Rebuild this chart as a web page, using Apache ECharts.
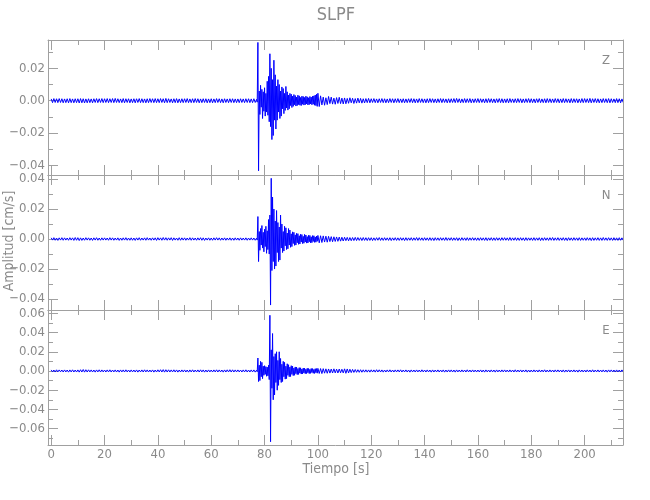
<!DOCTYPE html>
<html><head><meta charset="utf-8">
<script src="https://cdn.jsdelivr.net/npm/echarts@6/dist/echarts.min.js"></script>
<style>html,body{margin:0;padding:0;background:#fff}#c{width:650px;height:500px}</style>
</head><body><div id="c"></div>
<script>
const TITLE = 'SLPF';
const X_NAME = 'Tiempo [s]';
const Y_NAME = 'Amplitud [cm/s]';
const CHANNELS = ['Z', 'N', 'E'];
const AMP_UNIT = 1e-4;       // amplitudes below are in 1e-4 cm/s
// sampling of the three pieces of each trace: [start time (s), step (s)]
const PRE_GRID = [0, 0.5], EVT_GRID = [77, 0.25], POST_GRID = [100, 0.5];

// ---- Z ----
const zPre = [
11,-12,13,-11,12,-12,13,-11,12,-13,11,-12,12,-13,13,-12,11,-13,12,-12,
12,-14,13,-13,12,-14,11,-13,12,-12,11,-13,12,-11,13,-12,12,-11,13,-12,
12,-11,13,-12,12,-11,13,-12,14,-11,12,-12,11,-12,13,-13,12,-11,12,-13,
11,-12,12,-13,12,-11,13,-12,12,-12,11,-13,12,-12,13,-11,12,-12,13,-12,
12,-12,13,-11,12,-13,14,-12,12,-11,11,-13,12,-12,13,-13,11,-12,12,-12,
12,-11,13,-12,11,-12,12,-12,13,-11,12,-13,11,-12,12,-11,12,-13,11,-12,
12,-13,11,-12,13,-11,12,-12,11,-13,12,-11,11,-12,12,-11,12,-12,11,-12,
11,-12,12,-11,11,-12,12,-11,12,-12,11,-12,12,-11
];
const zEvt = [
8,-9,360,-433,60,-85,95,-40,70,-110,55,-65,80,-95,45,-70,120,-90,150,-130,
290,-160,200,-240,130,-215,250,-120,160,-175,90,-120,130,-70,100,-110,60,-95,85,-50,
75,-80,45,-60,88,-45,55,-58,35,-50,45,-30,40,-42,28,-35,38,-25,32,-33,
22,-30,34,-24,30,-28,20,-30,28,-22,26,-27,20,-25,28,-20,24,-26,18,-24,
26,-20,22,-25,28,-22,30,-28,35,-30,40,-35
];
const zPost = [
46,-36,30,-26,22,-28,18,-24,26,-18,22,-21,16,-22,19,-17,21,-18,16,-20,
17,-19,14,-16,18,-13,15,-17,13,-15,16,-13,14,-15,12,-14,13,-12,14,-13,
12,-11,13,-12,11,-13,12,-11,13,-12,12,-13,11,-12,13,-11,12,-13,12,-11,
13,-12,11,-12,12,-13,11,-12,12,-11,13,-12,12,-13,11,-12,13,-11,12,-12,
11,-13,12,-12,13,-11,12,-12,11,-13,12,-11,13,-12,12,-11,11,-13,12,-12,
12,-11,13,-12,14,-11,12,-13,11,-12,13,-12,12,-11,13,-13,11,-12,12,-11,
13,-12,12,-11,11,-13,12,-12,13,-11,12,-12,11,-13,12,-11,13,-12,12,-13,
11,-12,12,-13,13,-11,11,-12,12,-12,13,-11,12,-13,11,-12,12,-11,13,-12,
12,-12,11,-13,12,-11,13,-12,11,-12,12,-13,13,-11,12,-12,11,-12,13,-11,
12,-13,11,-12,13,-12,12,-11,11,-13,13,-12,12,-11,12,-13,11,-12,13,-12,
13,-11,12,-12,14,-13,12,-11,13,-12,12,-13,11,-12,13,-11,12,-12,13,-13,
12,-11,11,-12,13,-12,12,-13,11,-12
];

// ---- N ----
const nPre = [
8,-7,9,-8,7,-9,8,-7,9,-8,8,-7,7,-8,9,-7,8,-9,10,-8,
9,-10,8,-9,7,-8,9,-7,8,-8,7,-9,8,-7,9,-8,7,-8,8,-7,
8,-7,7,-8,9,-7,8,-8,7,-7,8,-9,7,-8,8,-7,9,-8,7,-8,
8,-8,7,-9,8,-7,9,-8,7,-7,8,-8,9,-7,7,-8,8,-7,8,-9,
9,-7,8,-8,10,-7,9,-8,8,-7,9,-9,8,-7,7,-8,9,-8,8,-7,
8,-8,7,-7,9,-8,8,-7,7,-8,8,-7,9,-8,8,-9,7,-7,8,-8,
7,-8,8,-7,9,-7,8,-8,7,-7,8,-8,7,-7,8,-8,7,-8,8,-7,
7,-8,8,-7,7,-7,8,-8,7,-7,8,-7,7,-8
];
const nEvt = [
6,-7,150,-150,50,-75,70,-40,90,-60,45,-85,65,-50,85,-95,55,-70,130,-100,
160,-440,405,-210,280,-150,200,-200,120,-180,190,-90,110,-150,80,-140,160,-60,100,-90,
50,-80,85,-45,75,-70,40,-65,70,-40,60,-55,35,-50,48,-30,45,-42,28,-40,
38,-25,36,-35,22,-33,32,-20,30,-30,18,-28,31,-20,27,-27,16,-26,25,-18,
24,-25,15,-24,23,-16,22,-22,14,-21,20,-15
];
const nPost = [
24,-25,22,-23,21,-20,19,-21,18,-17,16,-18,15,-16,14,-15,13,-14,12,-13,
12,-11,11,-12,10,-11,10,-10,11,-10,10,-9,9,-10,10,-9,9,-10,9,-9,
9,-10,8,-9,9,-8,10,-9,8,-9,9,-8,8,-9,9,-10,8,-8,9,-9,
8,-9,9,-8,8,-10,9,-9,8,-8,9,-9,8,-8,10,-9,9,-8,8,-9,
9,-8,8,-9,9,-9,8,-10,9,-8,8,-9,9,-8,8,-9,10,-9,8,-8,
9,-9,8,-8,9,-10,8,-9,9,-8,8,-9,9,-9,8,-8,9,-8,8,-9,
8,-9,9,-8,8,-9,9,-10,8,-8,9,-9,8,-9,9,-8,8,-9,9,-8,
9,-8,8,-9,10,-9,8,-8,9,-9,8,-9,9,-8,8,-10,9,-9,8,-8,
8,-9,9,-9,8,-8,9,-10,8,-9,9,-8,8,-9,9,-8,10,-9,8,-8,
9,-9,8,-8,9,-9,8,-10,9,-8,8,-9,9,-8,8,-9,9,-9,8,-8,
8,-9,9,-8,8,-10,9,-9,8,-8,9,-9,8,-9,10,-8,8,-9,9,-8,
8,-9,9,-8,8,-9,9,-8,8,-9
];

// ---- E ----
const ePre = [
11,-10,10,-11,12,-10,11,-9,10,-11,11,-10,10,-12,11,-10,12,-11,10,-11,
11,-12,13,-11,15,-12,13,-11,12,-10,11,-11,10,-12,11,-10,12,-11,11,-10,
10,-11,11,-10,12,-11,10,-10,11,-11,10,-12,11,-10,11,-11,12,-10,10,-11,
11,-10,10,-11,11,-12,10,-10,11,-11,12,-10,11,-11,10,-10,11,-12,10,-11,
12,-10,13,-11,14,-12,13,-11,12,-11,11,-10,12,-11,11,-12,10,-11,11,-10,
11,-11,10,-12,11,-10,12,-11,10,-10,11,-11,12,-10,11,-12,10,-11,11,-10,
10,-11,11,-10,12,-11,11,-10,10,-12,11,-11,12,-10,13,-11,12,-11,11,-10,
11,-10,10,-11,11,-10,12,-11,10,-11,11,-10,11,-12
];
const eEvt = [
8,-8,135,-110,60,-100,100,-60,90,-80,50,-45,55,-35,45,-55,40,-50,60,-90,
580,-737,220,-180,390,-300,150,-250,180,-120,200,-200,110,-150,200,-90,130,-120,70,-110,
100,-60,90,-85,50,-80,75,-45,65,-60,40,-58,55,-35,50,-48,30,-45,42,-28,
40,-38,25,-36,35,-22,33,-32,20,-31,30,-20,29,-28,18,-27,28,-18,26,-27,
17,-25,26,-16,25,-24,16,-26,24,-17,25,-23
];
const ePost = [
27,-26,25,-27,24,-23,22,-24,21,-22,20,-21,22,-20,19,-21,20,-19,18,-20,
22,-24,21,-20,18,-17,16,-15,15,-14,13,-14,13,-13,12,-12,12,-12,11,-12,
12,-11,11,-12,13,-11,12,-11,11,-12,10,-11,11,-10,12,-11,10,-11,11,-10,
11,-10,12,-11,10,-10,11,-11,10,-12,11,-10,10,-11,11,-10,10,-11,12,-10,
10,-11,11,-10,10,-12,11,-11,10,-10,11,-11,10,-10,11,-12,10,-11,11,-10,
11,-11,10,-12,11,-10,10,-11,11,-10,10,-11,12,-10,10,-11,11,-10,10,-11,
10,-10,11,-11,10,-12,11,-10,10,-11,11,-10,10,-12,11,-10,10,-11,11,-10,
11,-10,10,-11,11,-10,10,-11,12,-11,10,-10,11,-11,10,-10,11,-12,10,-11,
10,-11,11,-10,10,-11,11,-11,10,-10,12,-11,10,-11,11,-10,10,-11,11,-10,
11,-10,10,-11,11,-12,10,-10,11,-11,10,-10,11,-11,10,-12,11,-10,10,-11,
10,-11,11,-10,10,-11,12,-11,10,-10,11,-11,10,-10,11,-11,10,-12,11,-10,
11,-10,10,-11,11,-10,10,-11,11,-10
];
const TRACES = [[zPre, zEvt, zPost], [nPre, nEvt, nPost], [ePre, eEvt, ePost]];

const xRange = [-1.2, 214.4];
const xMajorTicks = [0, 20, 40, 60, 80, 100, 120, 140, 160, 180, 200];
const xMinorTicks = [10, 30, 50, 70, 90, 110, 130, 150, 170, 190, 210];
const yRanges = [[-0.0459, 0.0375], [-0.0473, 0.0427], [-0.0771, 0.0635]];
const yMajorTicks = [
  [-0.04, -0.02, 0, 0.02],
  [-0.04, -0.02, 0, 0.02, 0.04],
  [-0.06, -0.04, -0.02, 0, 0.02, 0.04, 0.06]
];
const yMinorTicks = [
  [-0.03, -0.01, 0.01, 0.03],
  [-0.03, -0.01, 0.01, 0.03],
  [-0.07, -0.05, -0.03, -0.01, 0.01, 0.03, 0.05]
];

const TXT = '#8a8a8a', FRAME = '#a0a0a0', TRACE = '#0000ff';
const FONT = "'Liberation Sans Narrow','DejaVu Sans Condensed','Liberation Sans',sans-serif";
const G_LEFT = 48, G_RIGHT = 27, G_TOP = 40, G_H = 135;

const grids = [], xAxes = [], yAxes = [], series = [], graphics = [];
const yFmt = v => (v < 0 ? '\u2212' : '') + Math.abs(v).toFixed(2);
const toPoints = (arr, grid) => arr.map((v, i) => [grid[0] + i * grid[1], v * AMP_UNIT]);

// each sample is joined to the previous one with a straight segment
const renderTrace = (params, api) => {
  const i = params.dataIndexInside;
  if (i === 0) return null;
  const p0 = api.coord([api.value(0, i - 1), api.value(1, i - 1)]);
  const p1 = api.coord([api.value(0, i), api.value(1, i)]);
  return { type: 'line', shape: { x1: p0[0], y1: p0[1], x2: p1[0], y2: p1[1] },
    style: { stroke: TRACE, lineWidth: 1, fill: null } };
};

CHANNELS.forEach((ch, g) => {
  grids.push({ left: G_LEFT, right: G_RIGHT, top: G_TOP + G_H * g, height: G_H });
  const xa = (pos, ticks, len, line, label) => ({
    gridIndex: g, type: 'value', position: pos, min: xRange[0], max: xRange[1],
    axisLine: { show: line, onZero: false, lineStyle: { color: FRAME, width: 1 } },
    axisTick: { show: true, inside: true, length: len, customValues: ticks, lineStyle: { color: FRAME, width: 1 } },
    axisLabel: { show: label, customValues: xMajorTicks, formatter: v => String(Math.round(v)),
      color: TXT, fontSize: 13, fontFamily: FONT, margin: 3 },
    splitLine: { show: false }
  });
  const ya = (pos, ticks, len, line, label) => ({
    gridIndex: g, type: 'value', position: pos, min: yRanges[g][0], max: yRanges[g][1],
    axisLine: { show: line, onZero: false, lineStyle: { color: FRAME, width: 1 } },
    axisTick: { show: true, inside: true, length: len, customValues: ticks, lineStyle: { color: FRAME, width: 1 } },
    axisLabel: { show: label, customValues: yMajorTicks[g], formatter: yFmt,
      color: TXT, fontSize: 13, fontFamily: FONT, margin: 3 },
    splitLine: { show: false }
  });
  const xMain = xAxes.length;
  xAxes.push(xa('bottom', xMajorTicks, 10, true, g === 2));
  xAxes.push(xa('bottom', xMinorTicks, 5, false, false));
  xAxes.push(xa('top', xMajorTicks, 10, true, false));
  xAxes.push(xa('top', xMinorTicks, 5, false, false));
  const yMain = yAxes.length;
  yAxes.push(ya('left', yMajorTicks[g], 10, true, true));
  yAxes.push(ya('left', yMinorTicks[g], 5, false, false));
  yAxes.push(ya('right', yMajorTicks[g], 10, true, false));
  yAxes.push(ya('right', yMinorTicks[g], 5, false, false));

  const [pre, evt, post] = TRACES[g];
  const data = toPoints(pre, PRE_GRID).concat(toPoints(evt, EVT_GRID), toPoints(post, POST_GRID));
  series.push({
    type: 'custom', name: ch, xAxisIndex: xMain, yAxisIndex: yMain, data: data,
    encode: { x: 0, y: 1 }, renderItem: renderTrace,
    clip: true, silent: true, animation: false
  });
  graphics.push({ type: 'text', x: 606, y: 61 + G_H * g,
    style: { text: ch, fill: TXT, font: '13px ' + FONT, align: 'center', verticalAlign: 'middle' } });
});

graphics.push({ type: 'text', x: 336, y: 15,
  style: { text: TITLE, fill: TXT, font: '18px ' + FONT, align: 'center', verticalAlign: 'middle' } });
graphics.push({ type: 'text', x: 336, y: 469,
  style: { text: X_NAME, fill: TXT, font: '14px ' + FONT, align: 'center', verticalAlign: 'middle' } });
graphics.push({ type: 'text', x: 9, y: 241, rotation: Math.PI / 2,
  style: { text: Y_NAME, fill: TXT, font: '14px ' + FONT, align: 'center', verticalAlign: 'middle' } });

const chart = echarts.init(document.getElementById('c'), null, { renderer: 'canvas' });
chart.setOption({
  animation: false, backgroundColor: '#ffffff',
  grid: grids, xAxis: xAxes, yAxis: yAxes, series: series, graphic: graphics
});
</script></body></html>
